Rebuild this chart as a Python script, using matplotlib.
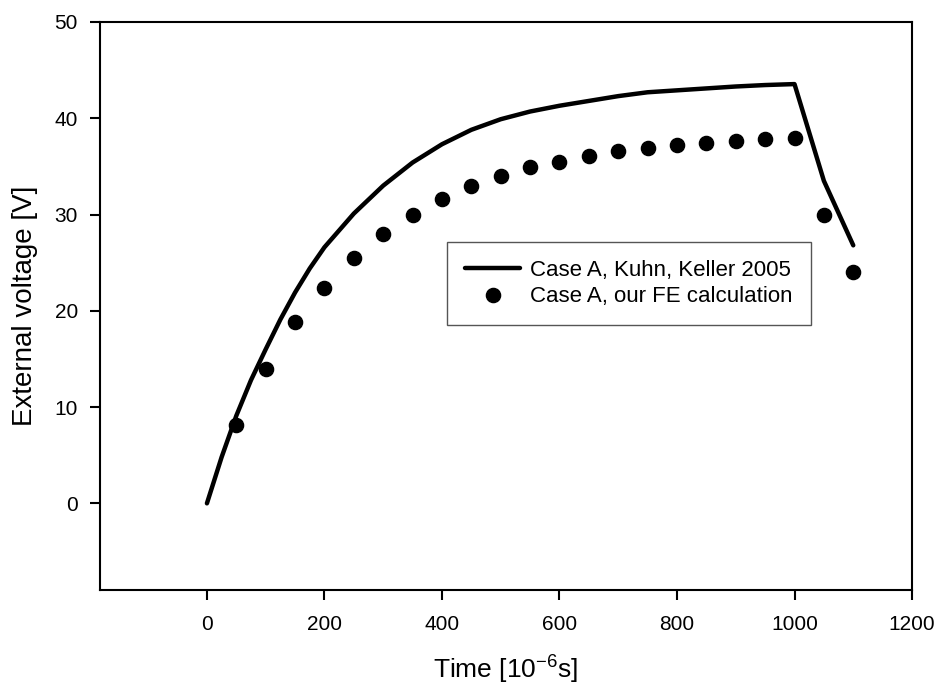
import matplotlib
matplotlib.use("Agg")
import matplotlib.pyplot as plt

plt.rcParams["font.family"] = ["Liberation Sans", "DejaVu Sans"]
plt.rcParams["mathtext.fontset"] = "custom"
plt.rcParams["mathtext.rm"] = "Liberation Sans"

# Kuhn, Keller 2005 reference curve
ref_time = [0, 25, 50, 75, 100, 125, 150, 175, 200, 250, 300, 350, 400, 450, 500, 550,
            600, 650, 700, 750, 800, 850, 900, 950, 1000, 1050, 1100]
ref_volt = [0.0, 4.8, 9.1, 12.8, 16.0, 19.1, 21.9, 24.4, 26.6, 30.1, 33.0, 35.4, 37.3,
            38.8, 39.9, 40.7, 41.3, 41.8, 42.3, 42.7, 42.9, 43.1, 43.3, 43.45, 43.55,
            33.5, 26.8]

# our FE calculation
fe_time = [50, 100, 150, 200, 250, 300, 350, 400, 450, 500, 550,
           600, 650, 700, 750, 800, 850, 900, 950, 1000, 1050, 1100]
fe_volt = [8.1, 14.0, 18.8, 22.4, 25.5, 28.0, 30.0, 31.6, 33.0, 34.0, 34.9,
           35.5, 36.1, 36.6, 36.9, 37.2, 37.45, 37.6, 37.8, 37.9, 29.9, 24.0]

x_ticks = [0, 200, 400, 600, 800, 1000, 1200]
y_ticks = [0, 10, 20, 30, 40, 50]

fig = plt.figure(figsize=(9.38, 6.85), dpi=100)
ax = fig.add_axes([0.1066, 0.1387, 0.8657, 0.8292])

ax.plot(ref_time, ref_volt, "-", color="black", lw=3.2,
        solid_capstyle="round", solid_joinstyle="round",
        label="Case A, Kuhn, Keller 2005")
ax.plot(fe_time, fe_volt, "o", color="black", ms=10.2,
        label="Case A, our FE calculation")

ax.set_xlim(-182, 1200)
ax.set_ylim(-9, 50)
ax.set_xticks(x_ticks)
ax.set_yticks(y_ticks)
ax.tick_params(direction="out", length=7, width=1.5, labelsize=15)
ax.tick_params(axis="x", pad=11)
ax.tick_params(axis="y", pad=9)
ax.tick_params(top=False, right=False)
for sp in ax.spines.values():
    sp.set_linewidth(1.5)

ax.set_xlabel("Time [10$^{\\mathregular{-6}}$s]", fontsize=19, labelpad=13)
ax.set_ylabel("External voltage [V]", fontsize=20, labelpad=12)

leg = ax.legend(loc="upper left", bbox_to_anchor=(0.4765, 0.6467),
                bbox_transform=fig.transFigure, borderaxespad=0,
                fontsize=16, fancybox=False, framealpha=1, edgecolor="#555555",
                handlelength=2.5, handletextpad=0.45, borderpad=0.8,
                labelspacing=0.25)
leg.get_frame().set_linewidth(1.0)

fig.savefig("out.png", dpi=100)
